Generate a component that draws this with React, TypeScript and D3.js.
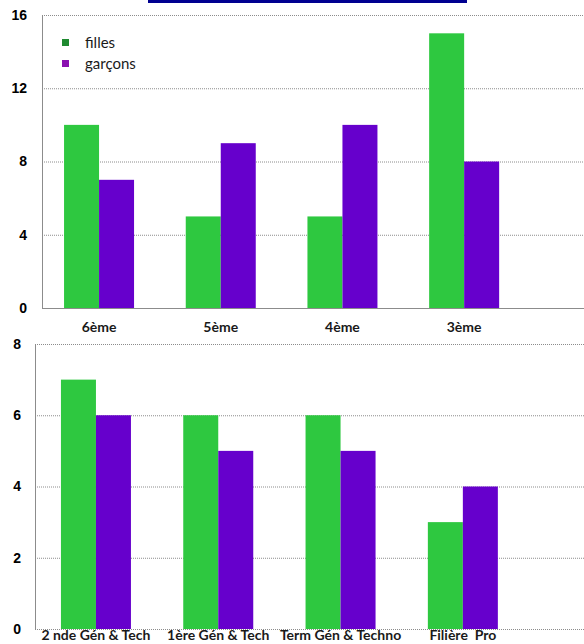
import * as d3 from "d3";
import React, { useEffect, useRef } from 'react';

// collège
const niveauxCollege = ["6ème", "5ème", "4ème", "3ème"];
const fillesCollege = [10, 5, 5, 15];
const garconsCollege = [7, 9, 10, 8];
const ticksCollege = [0, 4, 8, 12, 16];

// lycée
const niveauxLycee = ["2 nde Gén & Tech", "1ère Gén & Tech", "Term Gén & Techno", "Filière  Pro"];
const fillesLycee = [7, 6, 6, 3];
const garconsLycee = [6, 5, 5, 4];
const ticksLycee = [0, 2, 4, 6, 8];

const series = ["filles", "garçons"];
const barColors = ["#2ec840", "#6600cc"];
const legendColors = ["#1f8a30", "#8a10b0"];

const W = 584;
const H = 644;

interface Panel {
  cats: string[];
  filles: number[];
  garcons: number[];
  ticks: number[];
  top: number;
  bottom: number;
  axisX: number;
  bandStart: number;
  bandEnd: number;
  labelY: number;
  labelSize: number;
  tickRight: number;
  solidBase: boolean;
}

function drawPanel(svg: d3.Selection<SVGSVGElement, unknown, null, undefined>, p: Panel) {
  const g = svg.append('g');
  const maxV = d3.max(p.ticks) as number;

  const y = d3.scaleLinear().domain([0, maxV]).range([p.bottom, p.top]);
  const x0 = d3.scaleBand<string>().domain(p.cats).range([p.bandStart, p.bandEnd]).padding(0);
  const bw = x0.bandwidth();
  const x1 = d3.scaleBand<string>().domain(series).range([bw / 2 - 35, bw / 2 + 35]).padding(0);

  // grid
  g.selectAll('line.grid')
    .data(p.ticks.filter(t => t > 0 || !p.solidBase))
    .join('line')
    .attr('class', 'grid')
    .attr('x1', p.axisX)
    .attr('x2', W)
    .attr('y1', d => y(d) + 0.5)
    .attr('y2', d => y(d) + 0.5)
    .attr('stroke', '#8c8c8c')
    .attr('stroke-width', 1)
    .attr('stroke-dasharray', '1,1');

  const rows = p.cats.map((c, i) => ({ cat: c, vals: [p.filles[i], p.garcons[i]] }));

  const groups = g.selectAll('g.grp')
    .data(rows)
    .join('g')
    .attr('class', 'grp')
    .attr('transform', d => `translate(${x0(d.cat)},0)`);

  groups.selectAll('rect')
    .data(d => d.vals.map((v, k) => ({ key: series[k], v, k })))
    .join('rect')
    .attr('x', d => x1(d.key) as number)
    .attr('width', x1.bandwidth())
    .attr('y', d => y(d.v))
    .attr('height', d => y(0) - y(d.v))
    .attr('fill', d => barColors[d.k]);

  // axes lines
  g.append('line')
    .attr('x1', p.axisX + 0.5).attr('x2', p.axisX + 0.5)
    .attr('y1', p.top).attr('y2', p.bottom)
    .attr('stroke', '#8c8c8c');
  if (p.solidBase) {
    g.append('line')
      .attr('x1', p.axisX).attr('x2', W)
      .attr('y1', p.bottom + 0.5).attr('y2', p.bottom + 0.5)
      .attr('stroke', '#8c8c8c');
  }

  // tick labels
  g.selectAll('text.tick')
    .data(p.ticks)
    .join('text')
    .attr('class', 'tick')
    .attr('x', p.tickRight)
    .attr('y', d => y(d))
    .attr('dy', '0.35em')
    .attr('text-anchor', 'end')
    .attr('font-family', 'Liberation Sans, Arial, sans-serif')
    .attr('font-weight', 'bold')
    .attr('font-size', 14)
    .attr('fill', '#000')
    .text(d => d);

  // category labels
  g.selectAll('text.cat')
    .data(p.cats)
    .join('text')
    .attr('class', 'cat')
    .attr('x', d => (x0(d) as number) + bw / 2)
    .attr('y', p.labelY)
    .attr('text-anchor', 'middle')
    .attr('font-family', 'Lato, sans-serif')
    .attr('font-weight', 'bold')
    .attr('font-size', p.labelSize)
    .attr('fill', '#1a1a1a')
    .style('white-space', 'pre')
    .text(d => d);
}

export default function App() {
  const ref = useRef<SVGSVGElement | null>(null);

  useEffect(() => {
    if (!ref.current) return;
    const svg = d3.select(ref.current);
    svg.selectAll("*").remove();

    svg.append('rect').attr('width', W).attr('height', H).attr('fill', '#fff');

    // bandeau du titre (coupé)
    svg.append('rect')
      .attr('x', 148).attr('y', 0).attr('width', 319).attr('height', 3)
      .attr('fill', '#000090');

    drawPanel(svg, {
      cats: niveauxCollege, filles: fillesCollege, garcons: garconsCollege, ticks: ticksCollege,
      top: 15, bottom: 308, axisX: 42, bandStart: 38.2, bandEnd: 525,
      labelY: 332, labelSize: 14, tickRight: 27, solidBase: true,
    });

    drawPanel(svg, {
      cats: niveauxLycee, filles: fillesLycee, garcons: garconsLycee, ticks: ticksLycee,
      top: 344, bottom: 629, axisX: 35, bandStart: 34.8, bandEnd: 524,
      labelY: 640, labelSize: 14, tickRight: 21, solidBase: false,
    });

    // legend
    const legend = svg.append('g').attr('transform', 'translate(62, 39)');
    const items = legend.selectAll('g')
      .data(series)
      .join('g')
      .attr('transform', (_, i) => `translate(0, ${i * 21})`);
    items.append('rect')
      .attr('width', 7).attr('height', 7)
      .attr('fill', (_, i) => legendColors[i]);
    items.append('text')
      .attr('x', 23)
      .attr('y', 4)
      .attr('dy', '0.35em')
      .attr('font-family', 'Lato, sans-serif')
      .attr('font-size', 15)
      .attr('fill', '#1a1a1a')
      .text(d => d);
  }, []);

  return (
    <svg ref={ref} width={W} height={H}
      style={{ position: 'absolute', left: 0, top: 0, display: 'block' }} />
  );
}
